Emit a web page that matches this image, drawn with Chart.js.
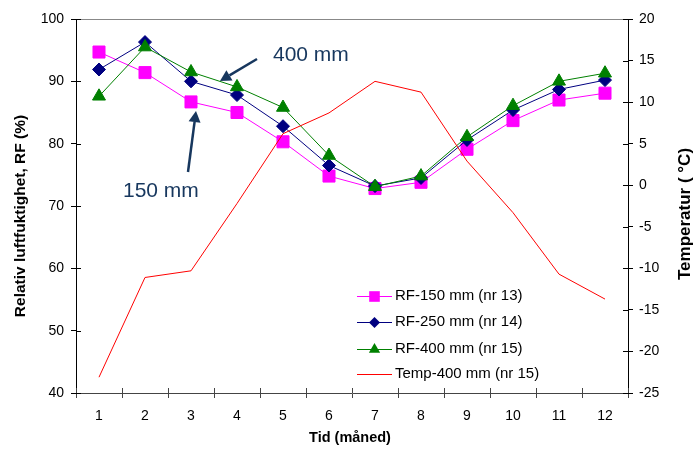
<!DOCTYPE html>
<html>
<head>
<meta charset="utf-8">
<script src="https://cdn.jsdelivr.net/npm/chart.js@4/dist/chart.umd.min.js"></script>
<style>
  html, body { margin: 0; padding: 0; background: #fff; }
  #wrap { width: 694px; height: 459px; position: relative; }
</style>
</head>
<body>
<div id="wrap"><canvas id="myChart" width="694" height="459"></canvas></div>
<script>
const months = ['1', '2', '3', '4', '5', '6', '7', '8', '9', '10', '11', '12'];
const rf150 = [94.7, 91.4, 86.7, 85.0, 80.3, 74.8, 72.8, 73.8, 79.1, 83.7, 87.0, 88.1];
const rf250 = [91.9, 96.3, 90.0, 87.8, 82.8, 76.5, 73.2, 74.5, 80.6, 85.4, 88.7, 90.2];
const rf400 = [87.6, 95.5, 91.5, 89.1, 85.8, 78.1, 73.1, 74.8, 81.1, 86.1, 90.0, 91.3];
const temp400 = [-23.1, -11.1, -10.3, -2.2, 6.2, 8.7, 12.5, 11.2, 2.9, -3.3, -10.7, -13.7];

const seriesNames = ['RF-150 mm (nr 13)', 'RF-250 mm (nr 14)', 'RF-400 mm (nr 15)', 'Temp-400 mm (nr 15)'];
const FONT = "'Liberation Sans', Arial, sans-serif";
const NAVY = '#17375E';

Chart.defaults.font.family = FONT;
Chart.defaults.font.size = 14;
Chart.defaults.color = '#000';

// inward half of the crossing tick marks, top frame line
const tickCross = {
  id: 'tickCross',
  afterDraw(chart) {
    const ctx = chart.ctx;
    const a = chart.chartArea;
    ctx.save();
    ctx.lineWidth = 1;
    ctx.strokeStyle = '#888';
    ctx.beginPath();
    ctx.moveTo(a.left, a.top + 0.5);
    ctx.lineTo(a.right, a.top + 0.5);
    ctx.stroke();
    ctx.strokeStyle = '#000';
    const y = chart.scales.y, y1 = chart.scales.y1;
    ctx.beginPath();
    y.ticks.forEach((t, i) => {
      const p = Math.round(y.getPixelForTick(i)) + 0.5;
      ctx.moveTo(a.left, p); ctx.lineTo(a.left + 5, p);
    });
    y1.ticks.forEach((t, i) => {
      const p = Math.round(y1.getPixelForTick(i)) + 0.5;
      ctx.moveTo(a.right, p); ctx.lineTo(a.right - 5, p);
    });
    ctx.stroke();
    ctx.strokeStyle = '#444';
    ctx.beginPath();
    for (let i = 0; i <= months.length; i++) {
      const p = Math.round(a.left + (a.right - a.left) * i / months.length) + 0.5;
      ctx.moveTo(p, a.bottom); ctx.lineTo(p, a.bottom - 5);
    }
    ctx.stroke();
    ctx.restore();
  }
};

function arrow(ctx, x0, y0, x1, y1) {
  const ang = Math.atan2(y1 - y0, x1 - x0);
  const hl = 11, hw = 6;
  const bx = x1 - Math.cos(ang) * hl, by = y1 - Math.sin(ang) * hl;
  ctx.beginPath();
  ctx.moveTo(x0, y0);
  ctx.lineTo(bx, by);
  ctx.stroke();
  ctx.beginPath();
  ctx.moveTo(x1, y1);
  ctx.lineTo(bx + Math.sin(ang) * hw, by - Math.cos(ang) * hw);
  ctx.lineTo(bx - Math.sin(ang) * hw, by + Math.cos(ang) * hw);
  ctx.closePath();
  ctx.fill();
}

function drawMarker(ctx, style, r, x, y) {
  if (style === 'rect') {
    const s = Math.SQRT1_2 * r;
    ctx.rect(x - s, y - s, 2 * s, 2 * s);
  } else if (style === 'rectRot') {
    ctx.moveTo(x, y - r); ctx.lineTo(x + r, y); ctx.lineTo(x, y + r); ctx.lineTo(x - r, y); ctx.closePath();
  } else if (style === 'triangle') {
    ctx.moveTo(x, y - r);
    ctx.lineTo(x + r * Math.sin(2 * Math.PI / 3), y + r / 2);
    ctx.lineTo(x - r * Math.sin(2 * Math.PI / 3), y + r / 2);
    ctx.closePath();
  }
}

// titles, annotations and the in-plot legend
const extras = {
  id: 'extras',
  afterDraw(chart) {
    const ctx = chart.ctx;
    ctx.save();
    ctx.fillStyle = '#000';
    ctx.textAlign = 'center';
    ctx.textBaseline = 'middle';
    ctx.font = 'bold 14.5px ' + FONT;
    ctx.fillText('Tid (måned)', 350, 438);
    ctx.font = 'bold 15.5px ' + FONT;
    ctx.save();
    ctx.translate(21, 216);
    ctx.rotate(-Math.PI / 2);
    ctx.fillText('Relativ luftfuktighet, RF (%)', 0, 0);
    ctx.restore();
    ctx.font = 'bold 17px ' + FONT;
    ctx.save();
    ctx.translate(685, 214);
    ctx.rotate(-Math.PI / 2);
    ctx.fillText('Temperatur ( °C)', 0, 0);
    ctx.restore();

    // annotations
    ctx.fillStyle = NAVY;
    ctx.strokeStyle = NAVY;
    ctx.lineWidth = 2.5;
    ctx.font = '21px ' + FONT;
    ctx.textAlign = 'left';
    ctx.fillText('400 mm', 273, 55);
    ctx.fillText('150 mm', 123, 191);
    arrow(ctx, 257, 59, 220, 81);
    arrow(ctx, 188, 172, 196, 111);

    // legend
    const ys = [296, 322, 349, 374];
    ctx.font = '15px ' + FONT;
    ctx.textBaseline = 'middle';
    chart.data.datasets.forEach((ds, i) => {
      const yy = ys[i];
      ctx.strokeStyle = ds.borderColor;
      ctx.lineWidth = 1;
      ctx.beginPath();
      ctx.moveTo(357, yy + 0.5);
      ctx.lineTo(392, yy + 0.5);
      ctx.stroke();
      if (ds.pointStyle && ds.pointRadius > 0) {
        ctx.fillStyle = ds.pointBackgroundColor;
        ctx.beginPath();
        drawMarker(ctx, ds.pointStyle, ds.pointRadius - 1, 374.5, yy + 0.5);
        ctx.fill();
      }
      ctx.fillStyle = '#000';
      ctx.fillText(seriesNames[i], 395, yy);
    });
    ctx.restore();
  }
};

const data = {
  labels: months,
  datasets: [
    {
      label: seriesNames[0],
      data: rf150,
      yAxisID: 'y',
      borderColor: '#FF00FF',
      backgroundColor: '#FF00FF',
      pointBackgroundColor: '#FF00FF',
      pointBorderColor: '#FF00FF',
      pointStyle: 'rect',
      pointRadius: 8.5,
      borderWidth: 1,
      order: 3
    },
    {
      label: seriesNames[1],
      data: rf250,
      yAxisID: 'y',
      borderColor: '#000080',
      backgroundColor: '#000080',
      pointBackgroundColor: '#000080',
      pointBorderColor: '#000080',
      pointStyle: 'rectRot',
      pointRadius: 6.5,
      borderWidth: 1,
      order: 2
    },
    {
      label: seriesNames[2],
      data: rf400,
      yAxisID: 'y',
      borderColor: '#008000',
      backgroundColor: '#008000',
      pointBackgroundColor: '#008000',
      pointBorderColor: '#008000',
      pointStyle: 'triangle',
      pointRadius: 7.5,
      borderWidth: 1,
      order: 1
    },
    {
      label: seriesNames[3],
      data: temp400,
      yAxisID: 'y1',
      borderColor: '#FF0000',
      backgroundColor: '#FF0000',
      pointRadius: 0,
      borderWidth: 1,
      order: 0
    }
  ]
};

const config = {
  type: 'line',
  data: data,
  options: {
    responsive: false,
    animation: false,
    layout: { padding: { top: 19, left: 0, right: 0, bottom: 0 } },
    plugins: {
      legend: { display: false },
      tooltip: { enabled: false }
    },
    elements: { line: { tension: 0 } },
    scales: {
      x: {
        offset: true,
        grid: { display: true, offset: true, drawOnChartArea: false, drawTicks: true, tickLength: 5, color: '#444' },
        border: { display: true, color: '#444', width: 1 },
        ticks: { padding: 10, maxRotation: 0 },
        afterFit(scale) { scale.height = 66; }
      },
      y: {
        position: 'left',
        min: 40,
        max: 100,
        ticks: { stepSize: 10, padding: 7 },
        grid: { display: true, drawOnChartArea: false, drawTicks: true, tickLength: 5, color: '#000' },
        border: { display: true, color: '#000', width: 1 },
        afterFit(scale) { scale.width = 76; }
      },
      y1: {
        position: 'right',
        min: -25,
        max: 20,
        ticks: { stepSize: 5, padding: 6 },
        grid: { display: true, drawOnChartArea: false, drawTicks: true, tickLength: 5, color: '#000' },
        border: { display: true, color: '#000', width: 1 },
        afterFit(scale) { scale.width = 66; }
      }
    }
  },
  plugins: [tickCross, extras]
};

const myChart = new Chart(document.getElementById('myChart'), config);
</script>
</body>
</html>
